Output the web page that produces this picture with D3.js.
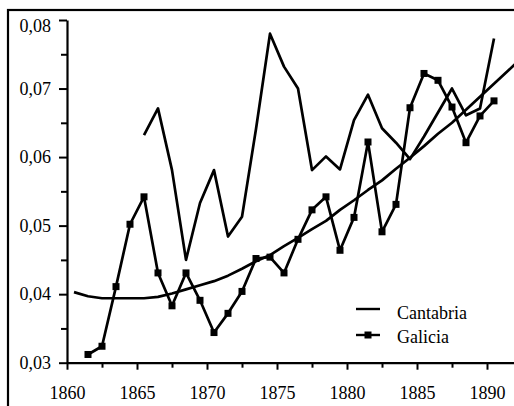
<!DOCTYPE html>
<html>
<head>
	<meta charset="utf-8">
	<title>Cantabria y Galicia</title>
	<script src="https://cdn.jsdelivr.net/npm/d3@7"></script>
	<style>
		body { margin: 0; background: #fff; }
	</style>
</head>
<body>
	<script>
	// years run 1861..1890 for Galicia, 1865..1890 for Cantabria, plotted mid-year
	var galiciaYears = d3.range(1861, 1891);
	var galicia = [0.0312, 0.0324, 0.0411, 0.0502, 0.0542, 0.0431, 0.0383, 0.0431, 0.0391, 0.0344,
		0.0372, 0.0404, 0.0452, 0.0454, 0.0431, 0.0480, 0.0523, 0.0542, 0.0464, 0.0512,
		0.0622, 0.0491, 0.0531, 0.0672, 0.0722, 0.0712, 0.0673, 0.0621, 0.0660, 0.0682];

	var cantabriaYears = d3.range(1865, 1891);
	var cantabria = [0.0632, 0.0671, 0.0581, 0.0450, 0.0533, 0.0581, 0.0484, 0.0513, 0.0641, 0.0780,
		0.0732, 0.0700, 0.0581, 0.0601, 0.0582, 0.0654, 0.0691, 0.0642, 0.0621, 0.0597,
		0.0630, 0.0665, 0.0700, 0.0661, 0.0671, 0.0773];

	// smoothed trend line
	var trendYears = d3.range(1860, 1893);
	var trend = [0.0403, 0.0397, 0.0394, 0.0394, 0.0394, 0.0394, 0.0396, 0.0401, 0.0407, 0.0413,
		0.0419, 0.0427, 0.0437, 0.0448, 0.0457, 0.0470, 0.0482, 0.0495, 0.0507, 0.0523,
		0.0537, 0.0552, 0.0566, 0.0583, 0.0599, 0.0616, 0.0634, 0.0650, 0.0669, 0.0688,
		0.0707, 0.0726, 0.0745];

	var xMajor = [1860, 1865, 1870, 1875, 1880, 1885, 1890];
	var xMinor = [1862.5, 1867.5, 1872.5, 1877.5, 1882.5, 1887.5];
	var yMajor = [0.03, 0.04, 0.05, 0.06, 0.07, 0.08];
	var yMinor = [0.035, 0.045, 0.055, 0.065, 0.075];

	var w = 514, h = 406;

	var svg = d3.select("body").append("svg")
		.attr("width", w)
		.attr("height", h);

	var x = d3.scaleLinear().domain([1860, 1892]).range([67, 515]);
	var y = d3.scaleLinear().domain([0.03, 0.08]).range([362.7, 20]);

	// outer frame (runs off the right and bottom edges)
	svg.append("rect")
		.attr("x", 8).attr("y", 10)
		.attr("width", 520).attr("height", 420)
		.attr("fill", "none")
		.attr("stroke", "#000")
		.attr("stroke-width", 2.2);

	svg.append("clipPath").attr("id", "plot")
		.append("rect")
		.attr("x", 67).attr("y", 12)
		.attr("width", w - 67).attr("height", 351);

	// axes
	var fmt = function(d) { return d3.format(".2f")(d).replace(".", ","); };

	var gy = svg.append("g").attr("transform", "translate(67,0)");
	gy.call(d3.axisLeft(y).tickValues(yMajor).tickSize(8).tickSizeOuter(0).tickFormat(fmt));
	gy.append("g").call(d3.axisLeft(y).tickValues(yMinor).tickSize(6).tickSizeOuter(0).tickFormat(""))
		.select(".domain").remove();

	var gx = svg.append("g").attr("transform", "translate(0,362.7)");
	gx.call(d3.axisBottom(x).tickValues(xMajor).tickSize(7).tickSizeOuter(0).tickFormat(d3.format("d")));
	gx.append("g").call(d3.axisBottom(x).tickValues(xMinor).tickSize(5).tickSizeOuter(0).tickFormat(""))
		.select(".domain").remove();

	svg.selectAll(".domain").attr("stroke-width", 2.2);
	svg.selectAll(".tick line").attr("stroke-width", 2);
	gy.selectAll(".tick text").attr("x", -16);
	gy.selectAll(".tick").filter(function(d) { return d === 0.08; })
		.select("text").attr("dy", "0.62em");
	gx.selectAll(".tick text").attr("y", 24);

	// series
	var line = d3.line()
		.x(function(d) { return x(d.year + 0.5); })
		.y(function(d) { return y(d.v); });

	function pairs(years, vals) {
		return years.map(function(yr, i) { return { year: yr, v: vals[i] }; });
	}

	var plot = svg.append("g").attr("clip-path", "url(#plot)");

	plot.append("path")
		.datum(pairs(trendYears, trend))
		.attr("d", line)
		.attr("fill", "none")
		.attr("stroke", "#000")
		.attr("stroke-width", 2.7)
		.attr("stroke-linejoin", "round");

	plot.append("path")
		.datum(pairs(cantabriaYears, cantabria))
		.attr("d", line)
		.attr("fill", "none")
		.attr("stroke", "#000")
		.attr("stroke-width", 2.7)
		.attr("stroke-linejoin", "round");

	var gal = pairs(galiciaYears, galicia);
	plot.append("path")
		.datum(gal)
		.attr("d", line)
		.attr("fill", "none")
		.attr("stroke", "#000")
		.attr("stroke-width", 2.7)
		.attr("stroke-linejoin", "round");

	plot.selectAll("rect.mark")
		.data(gal)
		.enter()
		.append("rect")
		.attr("class", "mark")
		.attr("x", function(d) { return x(d.year + 0.5) - 3.5; })
		.attr("y", function(d) { return y(d.v) - 3.5; })
		.attr("width", 7)
		.attr("height", 7)
		.attr("fill", "#000");

	// legend
	var legend = svg.append("g");
	legend.append("line")
		.attr("x1", 356).attr("x2", 380)
		.attr("y1", 309).attr("y2", 309)
		.attr("stroke", "#000").attr("stroke-width", 2.4);
	legend.append("text")
		.attr("x", 397).attr("y", 319)
		.text("Cantabria");
	legend.append("line")
		.attr("x1", 356).attr("x2", 380)
		.attr("y1", 335).attr("y2", 335)
		.attr("stroke", "#000").attr("stroke-width", 2.4);
	legend.append("rect")
		.attr("x", 364.5).attr("y", 331.5)
		.attr("width", 7).attr("height", 7)
		.attr("fill", "#000");
	legend.append("text")
		.attr("x", 397).attr("y", 343)
		.text("Galicia");

	// one font for all the text
	svg.selectAll("text")
		.style("font-family", "'Liberation Serif'")
		.style("font-size", "18px")
		.style("fill", "#000");
	</script>
</body>
</html>
